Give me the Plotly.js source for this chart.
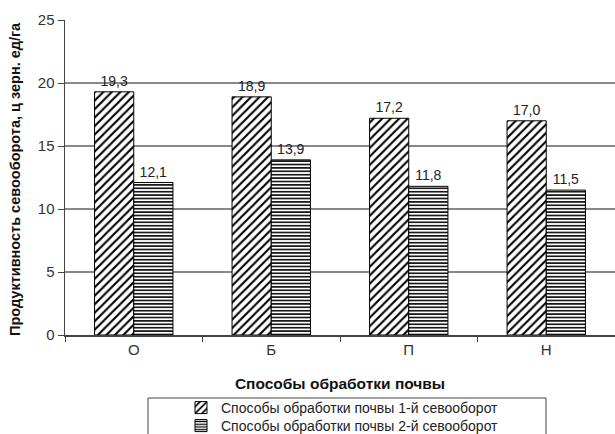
<!DOCTYPE html>
<html><head><meta charset="utf-8">
<script src="https://cdn.plot.ly/plotly-3.0.1.min.js"></script>
<style>html,body{margin:0;padding:0;background:#fff}</style>
</head><body><div id="chart" style="width:615px;height:434px"></div>
<script>
const categories = ['О', 'Б', 'П', 'Н'];
const series1 = [19.3, 18.9, 17.2, 17.0];
const series2 = [12.1, 13.9, 11.8, 11.5];
const seriesNames = ['Способы обработки почвы 1-й севооборот', 'Способы обработки почвы 2-й севооборот'];
const yTitle = 'Продуктивность севооборота, ц зерн. ед/га';
const xTitle = 'Способы обработки почвы';
const yTicks = [0, 5, 10, 15, 20, 25];
const fmt = v => v.toFixed(1).replace('.', ',');
const font = "'Liberation Sans', Arial, sans-serif";
const traces = [
  {type:'bar', x:categories, y:series1, name:seriesNames[0], legend:'legend',
   text:series1.map(fmt), textposition:'outside', cliponaxis:false,
   textfont:{family:font,size:14,color:'#222'},
   marker:{color:'#fff', line:{color:'#000',width:1},
     pattern:{shape:'/', fgcolor:'#000', bgcolor:'#fff', size:6, solidity:0.35}}},
  {type:'bar', x:categories, y:series2, name:seriesNames[1], legend:'legend2',
   text:series2.map(fmt), textposition:'outside', cliponaxis:false,
   textfont:{family:font,size:14,color:'#222'},
   marker:{color:'#fff', line:{color:'#000',width:1},
     pattern:{shape:'-', fgcolor:'#000', bgcolor:'#fff', size:3.4, solidity:0.45}}}
];
const legendBase = {xref:'container', yref:'container', x:181/615, xanchor:'left', yanchor:'top',
  orientation:'v', bgcolor:'rgba(0,0,0,0)', borderwidth:0,
  font:{family:font,size:14,color:'#222'}, itemwidth:30};
const layout = {
  width:615, height:434,
  margin:{l:65, r:0, t:20, b:99, autoexpand:false},
  paper_bgcolor:'#fff', plot_bgcolor:'#fff',
  font:{family:font, color:'#222'},
  barmode:'group', bargap:0.43, bargroupgap:0,
  showlegend:true,
  legend:Object.assign({}, legendBase, {y:(434-392)/434}),
  legend2:Object.assign({}, legendBase, {y:(434-410)/434}),
  xaxis:{title:{text:xTitle, font:{family:font,size:15.5,color:'#111',weight:'bold'}, standoff:21},
    tickfont:{family:font,size:15,color:'#333'},
    showline:true, linecolor:'#444', linewidth:1.5,
    ticks:'outside', tickson:'boundaries', ticklen:5, tickcolor:'#444',
    showgrid:false, automargin:false},
  yaxis:{range:[0,25], tickvals:yTicks, ticktext:yTicks.map(String),
    tickfont:{family:font,size:15,color:'#333'},
    showline:true, linecolor:'#444', linewidth:1.5,
    ticks:'outside', ticklen:6, tickcolor:'#444', automargin:false,
    showgrid:true, gridcolor:'#888', gridwidth:1.5, zeroline:false},
  annotations:[{text:'<b>'+yTitle+'</b>', textangle:-90, showarrow:false,
    xref:'paper', yref:'paper', x:-(65-15)/550, xanchor:'center', y:(335-179)/315, yanchor:'middle',
    font:{family:font,size:14.5,color:'#111'}}],
  shapes:[{type:'rect', xref:'paper', yref:'paper', x0:(148-65)/550, x1:(546-65)/550,
    y0:-(440-335)/315, y1:-(398-335)/315, line:{color:'#444',width:1}}]
};
Plotly.newPlot('chart', traces, layout, {displayModeBar:false, staticPlot:true});
</script></body></html>
